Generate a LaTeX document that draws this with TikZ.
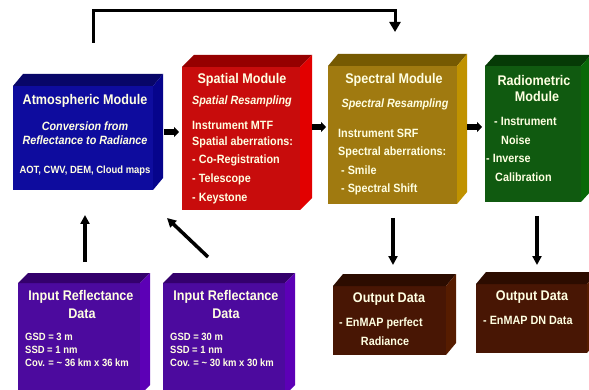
\documentclass[tikz,border=0pt]{standalone}
\usepackage{fontspec}
\setmainfont{Liberation Sans}[FakeStretch=0.9]
\usetikzlibrary{arrows.meta,calc}

% face colours: front / top / side
\definecolor{atmF}{RGB}{14,12,158}
\definecolor{atmT}{RGB}{8,6,104}
\definecolor{atmS}{RGB}{6,4,140}
\definecolor{spaF}{RGB}{200,12,12}
\definecolor{spaT}{RGB}{150,0,0}
\definecolor{spaS}{RGB}{226,0,0}
\definecolor{speF}{RGB}{160,122,16}
\definecolor{speT}{RGB}{118,90,2}
\definecolor{speS}{RGB}{192,146,0}
\definecolor{radF}{RGB}{16,90,16}
\definecolor{radT}{RGB}{6,58,6}
\definecolor{radS}{RGB}{8,104,8}
\definecolor{inF}{RGB}{76,10,158}
\definecolor{inT}{RGB}{52,0,108}
\definecolor{inS}{RGB}{92,0,182}
\definecolor{outF}{RGB}{72,22,4}
\definecolor{outT}{RGB}{44,12,0}
\definecolor{outS}{RGB}{86,28,0}
\definecolor{txt}{RGB}{255,255,226}

% extruded faces above and to the right of a front-face node
\newcommand\extrude[5]{% node, dx, dy, top colour, side colour
  \fill[#4] (#1.north west) -- ++(#2,-#3) -- ($(#1.north east)+(#2,-#3)$) -- (#1.north east) -- cycle;
  \fill[#5] (#1.north east) -- ++(#2,-#3) -- ($(#1.south east)+(#2,-#3)$) -- (#1.south east) -- cycle;}

\begin{document}
\begin{tikzpicture}[x=1pt,y=-1pt,
  front/.style={draw=none,inner sep=0pt,outer sep=0pt},
  ttl/.style={text=txt,inner sep=0pt,anchor=mid,font=\bfseries\fontsize{14}{16}\selectfont},
  sub/.style={text=txt,inner sep=0pt,anchor=mid,font=\bfseries\itshape\fontsize{12}{14}\selectfont},
  body/.style={text=txt,inner sep=0pt,anchor=mid west,font=\bfseries\fontsize{12}{14}\selectfont},
  bodyc/.style={text=txt,inner sep=0pt,anchor=mid,font=\bfseries\fontsize{12}{14}\selectfont},
  small/.style={text=txt,inner sep=0pt,anchor=mid west,font=\bfseries\fontsize{10.5}{12}\selectfont},
  smallc/.style={text=txt,inner sep=0pt,anchor=mid,font=\bfseries\fontsize{10.5}{12}\selectfont},
  fat/.style={line width=6pt,-{Triangle[length=5pt,width=10pt]}},
  vert/.style={line width=3.5pt,-{Triangle[length=9pt,width=9pt]}},
  feed/.style={line width=3pt,-{Triangle[length=10pt,width=11pt]}}]
\useasboundingbox (0,0) rectangle (589,390);
\begin{scope}
\clip (0,0) rectangle (589,390);

% front faces
\node[front,fill=atmF,minimum width=140pt,minimum height=104pt] (atm) at (83,138) {};
\node[front,fill=spaF,minimum width=118pt,minimum height=143pt] (spa) at (241,138.5) {};
\node[front,fill=speF,minimum width=129pt,minimum height=138pt] (spe) at (392.5,135) {};
\node[front,fill=radF,minimum width=96pt,minimum height=136pt] (rad) at (533,134) {};
\node[front,fill=inF,minimum width=122pt,minimum height=112pt] (in1) at (79,339) {};
\node[front,fill=inF,minimum width=122pt,minimum height=112pt] (in2) at (224,339) {};
\node[front,fill=outF,minimum width=113pt,minimum height=69pt] (out1) at (389.5,320.5) {};
\node[front,fill=outF,minimum width=111pt,minimum height=69pt] (out2) at (531.5,318.5) {};

\extrude{atm}{10}{12}{atmT}{atmS}
\extrude{spa}{12}{12}{spaT}{spaS}
\extrude{spe}{10}{12}{speT}{speS}
\extrude{rad}{10}{11}{radT}{radS}
\extrude{in1}{10}{10}{inT}{inS}
\extrude{in2}{10}{10}{inT}{inS}
\extrude{out1}{10}{12}{outT}{outS}
\extrude{out2}{10}{12}{outT}{outS}

% Atmospheric module
\node[ttl] at (85,102) {Atmospheric Module};
\node[sub] at (85,128) {Conversion from};
\node[sub] at (85,142) {Reflectance to Radiance};
\node[smallc] at (85,171) {AOT, CWV, DEM, Cloud maps};

% Spatial module
\node[ttl] at (242,81) {Spatial Module};
\node[sub] at (242,102) {Spatial Resampling};
\node[body] at (192,127) {Instrument MTF};
\node[body] at (192,143) {Spatial aberrations:};
\node[body] at (192,161) {- Co-Registration};
\node[body] at (192,180) {- Telescope};
\node[body] at (192,199) {- Keystone};

% Spectral module
\node[ttl] at (394,81) {Spectral Module};
\node[sub] at (395,105) {Spectral Resampling};
\node[body] at (338,135) {Instrument SRF};
\node[body] at (338,153) {Spectral aberrations:};
\node[body] at (341,172) {- Smile};
\node[body] at (341,190) {- Spectral Shift};

% Radiometric module
\node[ttl] at (534,83) {Radiometric};
\node[ttl] at (537,99) {Module};
\node[body] at (494,123) {- Instrument};
\node[body] at (501,142) {Noise};
\node[body] at (486,160) {- Inverse};
\node[body] at (495,179) {Calibration};

% Input data
\node[ttl] at (81,298) {Input Reflectance};
\node[ttl] at (82,316) {Data};
\node[small] at (25,338) {GSD = 3 m};
\node[small] at (25,351) {SSD = 1 nm};
\node[small] at (25,364) {Cov. = \textasciitilde\ 36 km x 36 km};
\node[ttl] at (226,298) {Input Reflectance};
\node[ttl] at (226,316) {Data};
\node[small] at (170,338) {GSD = 30 m};
\node[small] at (170,351) {SSD = 1 nm};
\node[small] at (170,364) {Cov. = \textasciitilde\ 30 km x 30 km};

% Output data
\node[ttl] at (389,300) {Output Data};
\node[body] at (339,324) {- EnMAP perfect};
\node[bodyc] at (385,343) {Radiance};
\node[ttl] at (532,298) {Output Data};
\node[body] at (483,322) {- EnMAP DN Data};
\end{scope}

% processing chain
\draw[fat] ($(atm.east |- 0,132)+(11,0)$) -- ($(spa.west |- 0,132)+(-3,0)$);
\draw[fat] ($(spa.east |- 0,127)+(12,0)$) -- ($(spe.west |- 0,127)+(-2,0)$);
\draw[fat] ($(spe.east |- 0,127)+(10,0)$) -- ($(rad.west |- 0,127)+(-3,0)$);

\draw[vert] ($(393,0 |- spe.south)+(0,14)$) -- ($(393,0 |- out1.north)+(0,-21)$);
\draw[vert] ($(537,0 |- rad.south)+(0,14)$) -- ($(537,0 |- out2.north)+(0,-19)$);

\draw[vert] ($(85,0 |- in1.north)+(0,-21)$) -- ($(85,0 |- atm.south)+(0,25)$);
\draw[vert] ($(in2.north west)+(45,-26)$) -- ($(atm.south east)+(14,28)$);

% feed from the atmospheric module straight to the spectral module
\coordinate (fbA) at ($(atm.north)+(10,-43)$);
\coordinate (fbB) at ($(spe.north)+(2.5,-34)$);
\draw[feed] (fbA) |- ($(fbB)+(0,-21)$) -- (fbB);
\end{tikzpicture}
\end{document}
